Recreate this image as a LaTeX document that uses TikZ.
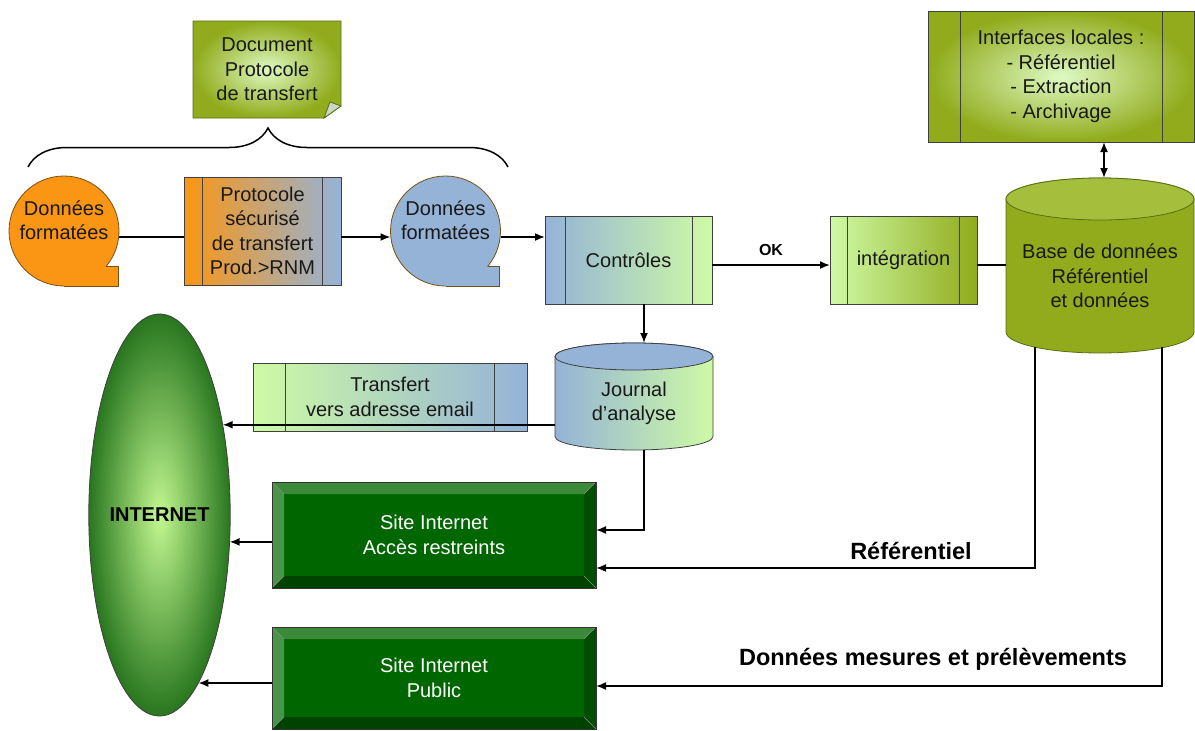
\documentclass[tikz,border=0pt]{standalone}
\usepackage{fontspec}
\setmainfont{Liberation Sans}
\usepackage{tikz}
\usetikzlibrary{calc, arrows.meta, decorations.pathreplacing, shapes.geometric}

\pgfdeclarelayer{background}
\pgfsetlayers{background,main}

\definecolor{dataorange}{RGB}{250,150,20}
\definecolor{diskedge}{RGB}{120,80,20}
\definecolor{datablue}{RGB}{149,179,215}
\definecolor{palegreen}{RGB}{206,250,165}
\definecolor{olivefill}{RGB}{145,171,28}
\definecolor{olivetop}{RGB}{165,190,60}
\definecolor{oliveline}{RGB}{90,110,20}
\definecolor{doclight}{RGB}{222,250,195}
\definecolor{foldgrey}{RGB}{205,215,200}
\definecolor{sitegreen}{RGB}{0,102,0}
\definecolor{sitetop}{RGB}{58,138,58}
\definecolor{siteleft}{RGB}{72,148,72}
\definecolor{siteright}{RGB}{0,78,0}
\definecolor{sitebottom}{RGB}{0,66,0}
\definecolor{netdark}{RGB}{40,118,30}
\definecolor{netlight}{RGB}{195,248,145}

\tikzset{
  txt/.style={font=\fontsize{20}{24.5}\selectfont, text=black!90, align=center},
  boxline/.style={draw=black!75, line width=0.8pt},
  disk/.style={draw=diskedge, line width=0.8pt, circle, minimum size=110, inner sep=0pt, outer sep=0pt},
  procbox/.style={txt, boxline, rectangle, inner sep=0pt, outer sep=0pt,
    path picture={
      \draw[boxline]
        ($(path picture bounding box.north west)!0.12!(path picture bounding box.north east)$) --
        ($(path picture bounding box.south west)!0.12!(path picture bounding box.south east)$)
        ($(path picture bounding box.north west)!0.88!(path picture bounding box.north east)$) --
        ($(path picture bounding box.south west)!0.88!(path picture bounding box.south east)$);
    }},
  sitebox/.style={txt, text=white, rectangle, draw=black!80, line width=0.8pt, fill=sitegreen,
    minimum width=324, inner sep=0pt, outer sep=0pt,
    path picture={
      \fill[sitetop] (path picture bounding box.north west) -- (path picture bounding box.north east)
        -- ([shift={(-12,-12)}]path picture bounding box.north east)
        -- ([shift={(12,-12)}]path picture bounding box.north west) -- cycle;
      \fill[siteleft] (path picture bounding box.north west) -- ([shift={(12,-12)}]path picture bounding box.north west)
        -- ([shift={(12,12)}]path picture bounding box.south west) -- (path picture bounding box.south west) -- cycle;
      \fill[siteright] (path picture bounding box.north east) -- ([shift={(-12,-12)}]path picture bounding box.north east)
        -- ([shift={(-12,12)}]path picture bounding box.south east) -- (path picture bounding box.south east) -- cycle;
      \fill[sitebottom] (path picture bounding box.south west) -- ([shift={(12,12)}]path picture bounding box.south west)
        -- ([shift={(-12,12)}]path picture bounding box.south east) -- (path picture bounding box.south east) -- cycle;
      \draw[black!45, line width=0.4pt]
        (path picture bounding box.north west) -- ([shift={(12,-12)}]path picture bounding box.north west)
        (path picture bounding box.north east) -- ([shift={(-12,-12)}]path picture bounding box.north east)
        (path picture bounding box.south west) -- ([shift={(12,12)}]path picture bounding box.south west)
        (path picture bounding box.south east) -- ([shift={(-12,12)}]path picture bounding box.south east);
    }},
  link/.style={line width=1.7pt, >={Latex[length=10pt, width=8pt]}},
  bigtxt/.style={font=\bfseries\fontsize{23.5}{28}\selectfont},
}

\begin{document}
\begin{tikzpicture}[x=1pt, y=1pt]
    \useasboundingbox (0, 0) rectangle (1195, -731);

    \node[txt, minimum width=148, minimum height=97, inner sep=0pt, outer sep=0pt] at (267, -69.5) (doc) {Document\\Protocole\\de transfert};
    \coordinate (braceL) at (28, -167);
    \coordinate (braceR) at (508, -167);

    \node[disk, fill=dataorange, label={[txt, name=in1txt, yshift=11]center:Données\\formatées}] at (64, -231) (in1) {};
    \node[procbox, left color=dataorange, right color=datablue, minimum width=157, minimum height=108] at (262.5, -231) (proto) {Protocole\\sécurisé\\de transfert\\Prod.>RNM};
    \node[disk, fill=datablue, label={[txt, name=out1txt, yshift=11]center:Données\\formatées}] at (445.5, -231) (out1) {};
    \node[procbox, left color=datablue, right color=palegreen, minimum width=167, minimum height=88] at (628.5, -260) (ctrl) {Contrôles};
    \node[procbox, left color=palegreen, right color=olivefill, minimum width=147, minimum height=88] at (903.5, -260) (integ) {intégration};
    \node[procbox, inner color=doclight, outer color=olivefill, minimum width=266, minimum height=131] at (1061, -76.5) (iface) {Interfaces locales :\\- Référentiel\\- Extraction\\- Archivage};
    \node[txt, minimum width=188, minimum height=154, inner sep=0pt, outer sep=0pt] at (1100, -276) (db) {Base de données\\Référentiel\\et données};
    \node[txt, minimum width=158, minimum height=93.5, inner sep=0pt, outer sep=0pt] at (634, -403.25) (journal) {Journal\\d’analyse};
    \node[procbox, left color=palegreen, right color=datablue, minimum width=274, minimum height=68] at (390, -397) (mail) {Transfert\\vers adresse email};

    \node[ellipse, boxline, inner color=netlight, outer color=netdark, minimum width=127, minimum height=402, inner sep=0pt, outer sep=0pt, font=\bfseries\fontsize{20}{24}\selectfont] at (159.5, -515) (inet) {INTERNET};
    \node[sitebox, minimum height=106] at (434, -535) (site1) {Site Internet\\Accès restreints};
    \node[sitebox, minimum height=102] at (434, -678) (site2) {Site Internet\\Public};

    \node[bigtxt] at (911, -551) (reflbl) {Référentiel};
    \node[bigtxt] at (933, -659) (datalbl) {Données mesures et prélèvements};

    % tails of the two disks
    \fill[dataorange] (in1.-40) -- ++(12,0) |- (in1.south) -- (in1.south |- in1.-40) -- cycle;
    \draw[draw=diskedge, line width=0.8pt] (in1.-40) -- ++(12,0) |- (in1.south);
    \fill[datablue] (out1.-40) -- ++(12,0) |- (out1.south) -- (out1.south |- out1.-40) -- cycle;
    \draw[draw=diskedge, line width=0.8pt] (out1.-40) -- ++(12,0) |- (out1.south);

    \draw[link] ([yshift=-6]in1.east) -- ([yshift=-6]proto.west);
    \draw[link, ->] ([yshift=-6]proto.east) -- ([yshift=-6]out1.west);
    \draw[link, ->] ([yshift=-6]out1.east) -- ([yshift=-6]out1.east -| ctrl.west);
    \draw[link, ->] ([yshift=-5]ctrl.east) -- ([yshift=-5]integ.west) node[midway, above=5pt, font=\bfseries\fontsize{16}{18}\selectfont] (ok) {OK};
    \draw[link] ([yshift=-5]integ.east) -- ([yshift=-5]integ.east -| db.west);
    \draw[link, <->] ([xshift=43]iface.south) -- ([xshift=4, yshift=21]db.north);
    \draw[link, ->] ([xshift=15.5]ctrl.south) -- ([xshift=10, yshift=13.5]journal.north);
    \draw[link, ->] (journal.west |- inet.55) -- (inet.55);
    \draw[link, ->] ([xshift=10]journal.south) |- ([yshift=5]site1.east);
    \draw[link, ->] (site1.west |- inet.-21) -- (inet.-21);
    \draw[link, ->] (site2.west |- inet.-77) -- (inet.-77);
    \draw[link, ->] ([xshift=-65, yshift=6]db.south) |- ([yshift=-33]site1.east);
    \draw[link, ->] ([xshift=62, yshift=6]db.south) |- ([yshift=-8]site2.east);
    \draw[decorate, decoration={brace, amplitude=39pt}, line width=1.5pt] (braceL) -- (braceR);

    \begin{pgfonlayer}{background}
        \fill[white] (0, 0) rectangle (1195, -731);
        % note with folded corner
        \shadedraw[inner color=doclight, outer color=olivefill, draw=oliveline, line width=0.8pt]
            (doc.north west) -- (doc.north east) -- ([yshift=12]doc.south east)
            -- ([xshift=-17]doc.south east) -- (doc.south west) -- cycle;
        \filldraw[fill=foldgrey, draw=oliveline, line width=0.8pt]
            ([yshift=12]doc.south east) -- ([xshift=-17]doc.south east) -- ([shift={(-11,16)}]doc.south east) -- cycle;
        % database
        \filldraw[fill=olivefill, draw=oliveline, line width=0.8pt]
            (db.north west) -- ([yshift=21]db.south west)
            arc[start angle=180, end angle=360, x radius=94, y radius=21]
            -- (db.north east) arc[start angle=0, end angle=180, x radius=94, y radius=21] -- cycle;
        \filldraw[fill=olivetop, draw=oliveline, line width=0.8pt] (db.north) ellipse[x radius=94, y radius=21];
        % journal
        \shadedraw[left color=datablue, right color=palegreen, draw=black!75, line width=0.8pt]
            (journal.north west) -- ([yshift=13.5]journal.south west)
            arc[start angle=180, end angle=360, x radius=79, y radius=13.5]
            -- (journal.north east) arc[start angle=0, end angle=180, x radius=79, y radius=13.5] -- cycle;
        \filldraw[fill=datablue, draw=black!75, line width=0.8pt] (journal.north) ellipse[x radius=79, y radius=13.5];
    \end{pgfonlayer}
\end{tikzpicture}
\end{document}
